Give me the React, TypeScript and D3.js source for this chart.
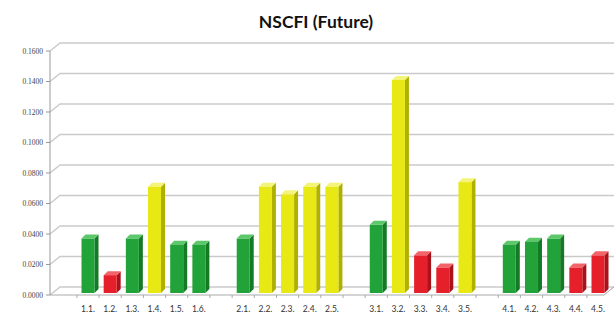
import React from "react"
import * as d3 from "d3"

// slots along the x axis; empty strings are the gaps between groups
const categories = [
  "1.1.", "1.2.", "1.3.", "1.4.", "1.5.", "1.6.", "",
  "2.1.", "2.2.", "2.3.", "2.4.", "2.5.", "",
  "3.1.", "3.2.", "3.3.", "3.4.", "3.5.", "",
  "4.1.", "4.2.", "4.3.", "4.4.", "4.5.",
]
const values = [
  0.037, 0.013, 0.037, 0.071, 0.033, 0.033, null,
  0.037, 0.071, 0.066, 0.071, 0.071, null,
  0.046, 0.141, 0.026, 0.018, 0.074, null,
  0.033, 0.035, 0.037, 0.018, 0.026,
]
// g = green, r = red, y = yellow
const levels = [
  "g", "r", "g", "y", "g", "g", "",
  "g", "y", "y", "y", "y", "",
  "g", "y", "r", "r", "y", "",
  "g", "g", "g", "r", "r",
]
const yTicks = [0, 0.02, 0.04, 0.06, 0.08, 0.1, 0.12, 0.14, 0.16]

const palette = {
  g: { front: "#22a33a", side: "#157a25", top: "#5cc86a" },
  r: { front: "#e6202b", side: "#a8121b", top: "#f2636a" },
  y: { front: "#e8e814", side: "#b0b000", top: "#f4f47a" },
}

const W = 616
const H = 318
const axisX = 50
const floorY = 295
const dx = 10
const dy = -8
const bdx = 4
const bdy = -4

export default function App() {
  const y = d3.scaleLinear().domain([0, 0.16]).range([floorY, 51])
  const x = d3
    .scalePoint()
    .domain(categories.map((c, i) => String(i)))
    .range([88, 598])
  const step = x.step()
  const bw = 13
  const right = 604

  return (
    <svg width={W} height={H} style={{ position: "absolute", left: 0, top: 0, background: "#fff" }}>
      <text x={316} y={28} textAnchor="middle" fontFamily="Lato, 'Open Sans', sans-serif" fontWeight={700} fontSize={17.5} fill="#111">
        NSCFI (Future)
      </text>

      {/* back wall gridlines */}
      {yTicks.map(t => (
        <g key={t}>
          <path
            d={`M${axisX},${y(t)} L${axisX + dx},${y(t) + dy} L${right + dx},${y(t) + dy}`}
            fill="none"
            stroke="#cacaca"
            strokeWidth={1.4}
          />
          <line x1={axisX - 4} x2={axisX} y1={y(t)} y2={y(t)} stroke="#999" />
          <text x={axisX - 7} y={y(t) + 2.5} textAnchor="end" fontFamily="Liberation Serif, serif" fontSize={7.5} fill="#444">
            {t.toFixed(4)}
          </text>
        </g>
      ))}
      <line x1={axisX} x2={axisX} y1={y(0.16)} y2={floorY} stroke="#999" />

      {/* floor */}
      <path
        d={`M${axisX},${floorY} L${right},${floorY} L${right + dx},${floorY + dy}`}
        fill="none"
        stroke="#aaa"
        strokeWidth={1}
      />
      {categories.map((c, i) => (
        <line
          key={"t" + i}
          x1={(x(String(i)) as number) - step / 2}
          x2={(x(String(i)) as number) - step / 2}
          y1={floorY}
          y2={floorY + 3}
          stroke="#aaa"
        />
      ))}

      {/* bars */}
      {values.map((v, i) => {
        if (v == null) return null
        const c = palette[levels[i] as "g" | "r" | "y"]
        const cx = x(String(i)) as number
        const x0 = cx - bw / 2
        const x1 = cx + bw / 2
        const top = y(v)
        const bottom = floorY - 2
        return (
          <g key={i}>
            <path d={`M${x1},${bottom} L${x1 + bdx},${bottom + bdy} L${x1 + bdx},${top + bdy} L${x1},${top}Z`} fill={c.side} />
            <path d={`M${x0},${top} L${x1},${top} L${x1 + bdx},${top + bdy} L${x0 + bdx},${top + bdy}Z`} fill={c.top} />
            <rect x={x0} y={top} width={bw} height={bottom - top} fill={c.front} />
          </g>
        )
      })}

      {/* x labels */}
      {categories.map((c, i) => (
        <text
          key={"l" + i}
          x={x(String(i)) as number}
          y={312}
          textAnchor="middle"
          fontFamily="Lato, 'Open Sans', sans-serif"
          fontSize={8.5}
          fill="#333"
        >
          {c}
        </text>
      ))}
    </svg>
  )
}
